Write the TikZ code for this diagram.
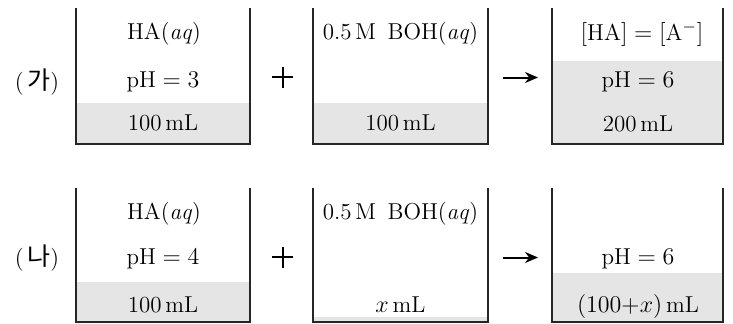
\documentclass[tikz,border=0pt]{standalone}
\usepackage{fontspec}
\newfontfamily\krfont{Noto Sans CJK KR}
\usetikzlibrary{arrows.meta}
\begin{document}
\begin{tikzpicture}[x=0.5pt,y=-0.5pt,
  wall/.style={line width=1.15pt, draw=black!85, line join=miter},
  liq/.style={fill=black!10},
  lbl/.style={font=\fontsize{11.5}{13}\selectfont, inner sep=0pt, anchor=base},
  kr/.style={font=\fontsize{11.5}{13}\selectfont, inner sep=0pt, anchor=center},
  opline/.style={line width=1pt, draw=black},
  rxn/.style={line width=1pt, draw=black, -{Stealth[length=6.5pt,width=5.5pt]}}]
\useasboundingbox (0,0) rectangle (733,323);

% ---------- row (가) ----------
\fill[liq] (76,103) rectangle (250,144);
\fill[liq] (313,103) rectangle (488,144);
\fill[liq] (552,61) rectangle (723,144);
\draw[wall] (76,8) -- (76,144) -- (250,144) -- (250,8);
\draw[wall] (313,8) -- (313,144) -- (488,144) -- (488,8);
\draw[wall] (552,8) -- (552,144) -- (723,144) -- (723,8);

\node[kr] (labA) at (37,82) {(\,{\krfont\fontsize{12.5}{13}\selectfont 가})};
\node[lbl] (a1t) at (164,39.5) {HA(\textit{aq})};
\node[lbl] (a1p) at (163,87.5) {$\mathrm{pH}=3$};
\node[lbl] (a1v) at (163,130.5) {100\,mL};
\node[lbl] (a2t) at (400.5,39.5) {0.5\,M\enspace BOH(\textit{aq})};
\node[lbl] (a2v) at (400.5,130.5) {100\,mL};
\node[lbl] (a3t) at (642,40) {$[\mathrm{HA}]=[\mathrm{A}^{-}]$};
\node[lbl] (a3p) at (638,87.5) {$\mathrm{pH}=6$};
\node[lbl] (a3v) at (638,131) {200\,mL};

\coordinate (plusA) at (282.5,77);
\draw[opline] ([xshift=-5.25pt]plusA) -- ([xshift=5.25pt]plusA);
\draw[opline] ([yshift=5.25pt]plusA) -- ([yshift=-5.25pt]plusA);
\coordinate (arrAs) at (503,77.5);
\coordinate (arrAe) at (538,77.5);
\draw[rxn] (arrAs) -- (arrAe);

% ---------- row (나) ----------
\fill[liq] (76,282) rectangle (250,322);
\fill[liq] (313,317) rectangle (488,322);
\fill[liq] (552,273) rectangle (723,322);
\draw[wall] (76,188) -- (76,322) -- (250,322) -- (250,188);
\draw[wall] (313,188) -- (313,322) -- (488,322) -- (488,188);
\draw[wall] (552,188) -- (552,322) -- (723,322) -- (723,188);

\node[kr] (labB) at (37,258) {(\,{\krfont\fontsize{12.5}{13}\selectfont 나})};
\node[lbl] (b1t) at (164,219.3) {HA(\textit{aq})};
\node[lbl] (b1p) at (163,264) {$\mathrm{pH}=4$};
\node[lbl] (b1v) at (163,312.3) {100\,mL};
\node[lbl] (b2t) at (400.5,219.3) {0.5\,M\enspace BOH(\textit{aq})};
\node[lbl] (b2v) at (400.5,312.3) {$x$\,mL};
\node[lbl] (b3p) at (638,264) {$\mathrm{pH}=6$};
\node[lbl] (b3v) at (638,312.3) {$(100{+}x)$\,mL};

\coordinate (plusB) at (282.5,257);
\draw[opline] ([xshift=-5.25pt]plusB) -- ([xshift=5.25pt]plusB);
\draw[opline] ([yshift=5.25pt]plusB) -- ([yshift=-5.25pt]plusB);
\coordinate (arrBs) at (503,257.5);
\coordinate (arrBe) at (538,257.5);
\draw[rxn] (arrBs) -- (arrBe);
\end{tikzpicture}
\end{document}
